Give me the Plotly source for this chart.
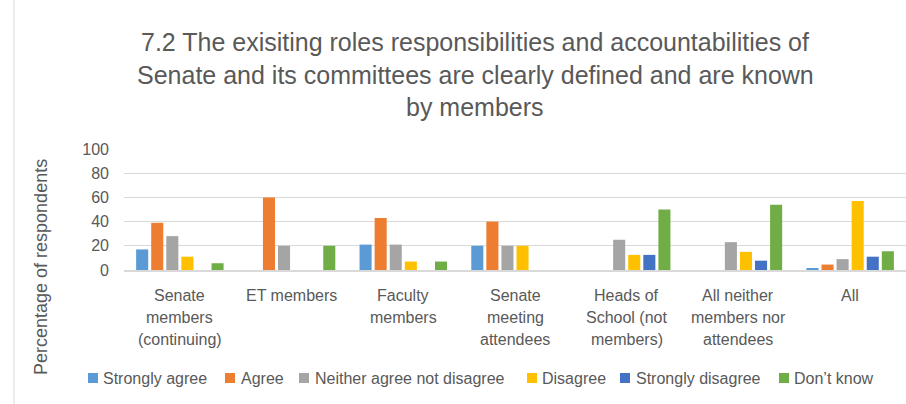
import plotly.graph_objects as go

# Respondent groups (x categories) and their wrapped label lines
categories = ["Senate members (continuing)", "ET members", "Faculty members",
              "Senate meeting attendees", "Heads of School (not members)",
              "All neither members nor attendees", "All"]
category_lines = [["Senate", "members", "(continuing)"],
                  ["ET members"],
                  ["Faculty", "members"],
                  ["Senate", "meeting", "attendees"],
                  ["Heads of", "School (not", "members)"],
                  ["All neither", "members nor", "attendees"],
                  ["All"]]

# Percentage of respondents per answer
strongly_agree = [17, 0, 21, 20, 0, 0, 1.6]
agree = [39, 60, 43, 40, 0, 0, 4.5]
neither = [28, 20, 21, 20, 25, 23, 9]
disagree = [11, 0, 7, 20, 12.5, 15, 57]
strongly_disagree = [0, 0, 0, 0, 12.5, 7.7, 11]
dont_know = [5.6, 20, 7, 0, 50, 54, 15.5]

series_names = ["Strongly agree", "Agree", "Neither agree not disagree",
                "Disagree", "Strongly disagree", "Don\u2019t know"]
series_values = [strongly_agree, agree, neither, disagree, strongly_disagree, dont_know]
series_colors = ["#5B9BD5", "#ED7D31", "#A5A5A5", "#FFC000", "#4472C4", "#70AD47"]

title_lines = ["7.2 The exisiting roles responsibilities and accountabilities of",
               "Senate and its committees are clearly defined and are known",
               "by members"]
y_ticks = [0, 20, 40, 60, 80, 100]

TEXT = "#595959"
FONT = "Liberation Sans"

W, H = 906, 404
L, R, T, B = 124, 0, 149, 134
pw, ph = W - L - R, H - T - B


def px_x(p):
    return (p - L) / pw


def px_y(p):
    return (H - B - p) / ph


fig = go.Figure()
for name, vals, col in zip(series_names, series_values, series_colors):
    fig.add_trace(go.Bar(x=categories, y=vals, name=name, marker_color=col,
                         marker_line_width=0, showlegend=False))

annotations = []
# Title, one annotation per line
for line, yc in zip(title_lines, [42, 75, 107]):
    annotations.append(dict(text=line, xref="paper", yref="paper",
                            x=px_x(475), y=px_y(yc), xanchor="center", yanchor="middle",
                            showarrow=False, font=dict(family=FONT, size=25, color=TEXT)))

# Category labels below the axis
for cat, lines in zip(categories, category_lines):
    for j, ln in enumerate(lines):
        annotations.append(dict(text=ln, xref="x", yref="paper", x=cat,
                                y=px_y(295 + 22 * j), xanchor="center", yanchor="middle",
                                showarrow=False, font=dict(family=FONT, size=16, color=TEXT)))

# Y axis title
annotations.append(dict(text="Percentage of respondents", xref="paper", yref="paper",
                        x=px_x(41), y=px_y(267), xanchor="center", yanchor="middle",
                        textangle=-90, showarrow=False,
                        font=dict(family=FONT, size=18, color=TEXT)))

# Legend drawn as colour squares and labels
legend_sq = [88, 225, 299, 527, 620, 779]
legend_tx = [101, 239, 313, 540, 634, 792]
shapes = []
for name, col, sx, tx in zip(series_names, series_colors, legend_sq, legend_tx):
    shapes.append(dict(type="rect", xref="paper", yref="paper",
                       x0=px_x(sx), x1=px_x(sx + 10), y0=px_y(383), y1=px_y(373),
                       fillcolor=col, line_width=0))
    annotations.append(dict(text=name, xref="paper", yref="paper", x=px_x(tx),
                            y=px_y(378), xanchor="left", yanchor="middle", showarrow=False,
                            font=dict(family=FONT, size=16, color=TEXT)))

# Chart frame edge on the left
shapes.append(dict(type="line", xref="paper", yref="paper",
                   x0=px_x(14), x1=px_x(14), y0=px_y(-5), y1=px_y(410),
                   line=dict(color="#D9D9D9", width=1)))

fig.update_layout(
    width=W, height=H,
    margin=dict(l=L, r=R, t=T, b=B, pad=0),
    paper_bgcolor="white", plot_bgcolor="white",
    barmode="group", bargap=0.19, bargroupgap=0.2,
    annotations=annotations, shapes=shapes,
    xaxis=dict(showticklabels=False, showgrid=False, zeroline=False,
               showline=True, linecolor="#D9D9D9", linewidth=1.5, ticks=""),
    yaxis=dict(range=[0, 100], tickvals=y_ticks, showgrid=True, gridcolor="#D9D9D9",
               gridwidth=1, zeroline=False, showline=False, ticks="",
               ticklabelstandoff=14,
               tickfont=dict(family=FONT, size=16, color=TEXT)),
)

fig.write_html("out.html")
